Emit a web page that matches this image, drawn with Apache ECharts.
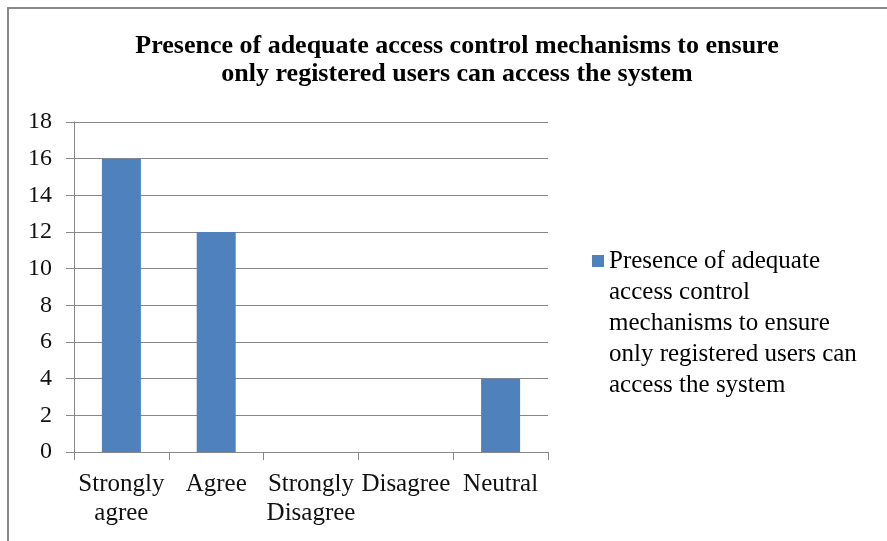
<!DOCTYPE html>
<html>
<head>
<meta charset="utf-8">
<script src="https://cdn.jsdelivr.net/npm/echarts@6/dist/echarts.min.js"></script>
<style>
  html, body { margin: 0; padding: 0; background: #fff; }
  #chart { width: 887px; height: 541px; }
</style>
</head>
<body>
<div id="chart"></div>
<script>
// Survey responses
const categories = ['Strongly agree', 'Agree', 'Strongly Disagree', 'Disagree', 'Neutral'];
const categoryLabels = ['Strongly\nagree', 'Agree', 'Strongly\nDisagree', 'Disagree', 'Neutral'];
const responses = [16, 12, 0, 0, 4];
const yTicks = { min: 0, max: 18, interval: 2 };

const seriesName = 'Presence of adequate access control mechanisms to ensure only registered users can access the system';
const legendLines = ['Presence of adequate', 'access control', 'mechanisms to ensure', 'only registered users can', 'access the system'];
const titleText = 'Presence of adequate access control mechanisms to ensure\nonly registered users can access the system';

const serif = '"Liberation Serif", "Times New Roman", serif';
const axisGray = '#888888';
const LH = 31;
// blank lines above the legend text keep the swatch level with its first line
const blankLines = legendLines.length - 1;
const legendText = '\n'.repeat(blankLines) + legendLines.join('\n');
const swatchCenterY = 261;

const chart = echarts.init(document.getElementById('chart'), null, { renderer: 'canvas' });
chart.setOption({
  backgroundColor: '#ffffff',
  animation: false,
  graphic: [{
    type: 'rect',
    shape: { x: 8, y: 8, width: 900, height: 560 },
    style: { fill: 'none', stroke: '#8a8a8a', lineWidth: 2 },
    silent: true
  }],
  title: {
    text: titleText,
    left: 452,
    top: 27,
    textAlign: 'center',
    textStyle: {
      fontFamily: serif,
      fontWeight: 'bold',
      fontSize: 26,
      lineHeight: 28,
      color: '#000'
    }
  },
  legend: {
    left: 592,
    top: swatchCenterY - (blankLines * 2 + 1) * LH / 2,
    padding: 0,
    orient: 'vertical',
    itemWidth: 12,
    itemHeight: 12,
    itemGap: 0,
    icon: 'rect',
    formatter: () => legendText,
    textStyle: {
      fontFamily: serif,
      fontSize: 25,
      lineHeight: LH,
      color: '#000'
    }
  },
  grid: { left: 74, right: 339, top: 122, bottom: 89, containLabel: false },
  xAxis: {
    type: 'category',
    data: categories,
    axisLine: { lineStyle: { color: axisGray, width: 1 } },
    axisTick: { show: true, length: 8, lineStyle: { color: axisGray } },
    axisLabel: {
      interval: 0,
      margin: 18,
      formatter: (v, i) => categoryLabels[i],
      fontFamily: serif,
      fontSize: 25,
      lineHeight: 29,
      color: '#111'
    }
  },
  yAxis: {
    type: 'value',
    min: yTicks.min,
    max: yTicks.max,
    interval: yTicks.interval,
    axisLine: { show: true, lineStyle: { color: axisGray, width: 1 } },
    axisTick: { show: true, length: 8, lineStyle: { color: axisGray } },
    splitLine: { lineStyle: { color: axisGray, width: 1 } },
    axisLabel: {
      margin: 22,
      fontFamily: serif,
      fontSize: 24,
      color: '#111'
    }
  },
  series: [{
    name: seriesName,
    type: 'bar',
    data: responses,
    barWidth: 39,
    itemStyle: { color: '#4f81bd' }
  }]
});
</script>
</body>
</html>
